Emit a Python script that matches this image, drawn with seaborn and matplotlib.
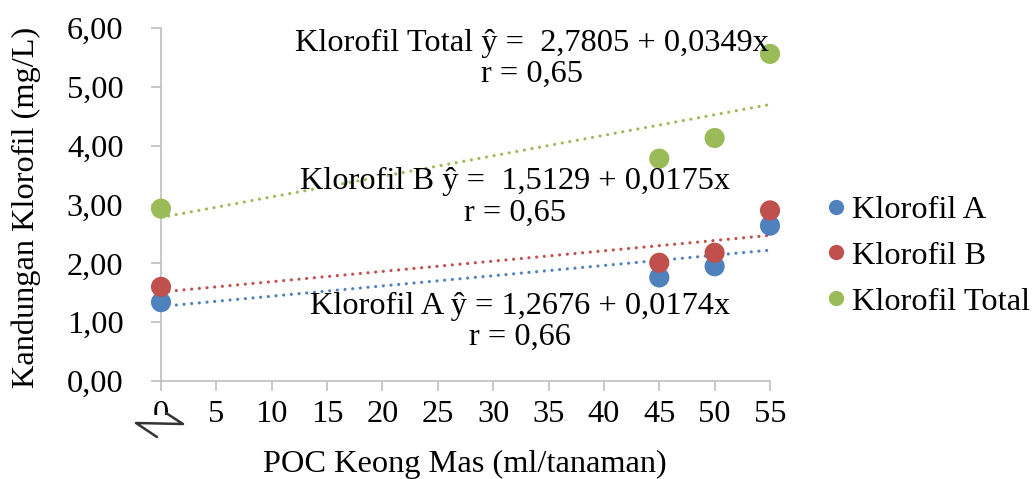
import numpy as np
import pandas as pd
import matplotlib
matplotlib.use("Agg")
import matplotlib.pyplot as plt
from matplotlib.lines import Line2D
from matplotlib.patches import Rectangle
import seaborn as sns

# ---- data ----
x_poc = [0, 45, 50, 55]
klorofil_a = [1.34, 1.76, 1.95, 2.64]
klorofil_b = [1.60, 2.01, 2.18, 2.90]
klorofil_total = [2.93, 3.78, 4.13, 5.56]
series_names = ["Klorofil A", "Klorofil B", "Klorofil Total"]
intercepts = [1.2676, 1.5129, 2.7805]
slopes = [0.0174, 0.0175, 0.0349]
equation_texts = [
    "Klorofil A ŷ = 1,2676 + 0,0174x\nr = 0,66",
    "Klorofil B ŷ =  1,5129 + 0,0175x\nr = 0,65",
    "Klorofil Total ŷ =  2,7805 + 0,0349x\nr = 0,65",
]
x_ticks = [0, 5, 10, 15, 20, 25, 30, 35, 40, 45, 50, 55]
y_ticks = [0, 1, 2, 3, 4, 5, 6]
y_tick_labels = ["0,00", "1,00", "2,00", "3,00", "4,00", "5,00", "6,00"]

colors = ["#4F81BD", "#C0504D", "#9BBB59"]

sns.set_theme(style="white")
plt.rcParams["font.family"] = ["Liberation Serif", "DejaVu Serif"]
plt.rcParams["text.color"] = "black"
plt.rcParams["axes.labelcolor"] = "black"
plt.rcParams["xtick.labelcolor"] = "black"
plt.rcParams["ytick.labelcolor"] = "black"
FS = 23.3

df = pd.DataFrame({
    "x": x_poc * 3,
    "y": klorofil_a + klorofil_b + klorofil_total,
    "series": sum([[n] * len(x_poc) for n in series_names], []),
})

fig = plt.figure(figsize=(10.34, 4.79), dpi=100)
ax = fig.add_axes([161 / 1034, 1 - 381 / 479, (770 - 161) / 1034, (381 - 28) / 479])

# trendlines
x_line = np.array([0, 55])
for a, b, c in zip(intercepts, slopes, colors):
    ax.plot(x_line, a + b * x_line, color=c, lw=2.3,
            linestyle=(0, (0.01, 2.4)), dash_capstyle="round", zorder=2)

sns.scatterplot(data=df, x="x", y="y", hue="series", palette=colors,
                s=210, edgecolor="none", ax=ax, legend=False, zorder=3,
                clip_on=False)

ax.set_xlim(0, 55)
ax.set_ylim(0, 6)
ax.set_xticks(x_ticks)
ax.set_xticklabels([str(t) for t in x_ticks], fontsize=FS)
ax.set_yticks(y_ticks)
ax.set_yticklabels(y_tick_labels, fontsize=FS)
ax.tick_params(axis="y", length=7, width=1.2, color="#BFBFBF", pad=20,
               direction="out", left=True, labelcolor="black")
ax.tick_params(axis="x", length=7, width=1.2, color="#BFBFBF", pad=7,
               direction="out", bottom=True, labelcolor="black")
for s in ["top", "right"]:
    ax.spines[s].set_visible(False)
for s in ["left", "bottom"]:
    ax.spines[s].set_color("#BFBFBF")
    ax.spines[s].set_linewidth(1.2)
ax.grid(False)

ax.set_xlabel("POC Keong Mas (ml/tanaman)", fontsize=FS, color="black")
ax.set_ylabel("Kandungan Klorofil (mg/L)", fontsize=FS, color="black")
ax.xaxis.set_label_coords((465 - 161) / (770 - 161), -(450 - 381) / (381 - 28))
ax.yaxis.set_label_coords(-(161 - 41) / (770 - 161), (381 - 207) / (381 - 28))

# equations
eq_pos = [(32.4, 1.0), (32.0, 3.12), (33.5, 5.47)]
for (ex, ey), t in zip(eq_pos, equation_texts):
    ax.text(ex, ey, t, ha="center", va="center", fontsize=FS,
            linespacing=1.1, zorder=4, color="black")

# legend
handles = [Line2D([0], [0], marker="o", linestyle="none", markersize=11,
                  markerfacecolor=c, markeredgecolor="none") for c in colors]
leg = fig.legend(handles, series_names, loc="center left",
                 bbox_to_anchor=(807 / 1034, 1 - 256 / 479), frameon=False,
                 fontsize=FS, handletextpad=0.0, labelspacing=0.5,
                 borderaxespad=0, handlelength=1.0)
for t in leg.get_texts():
    t.set_color("black")

# axis break symbol over the 0 label
fig.patches.append(Rectangle((133 / 1034, 1 - 442 / 479), 56 / 1034, 27 / 479,
                             transform=fig.transFigure, facecolor="white",
                             edgecolor="none", zorder=5))
zig_x = [166, 183, 136, 157]
zig_y = [413, 424, 423, 437]
fig.lines.append(Line2D([v / 1034 for v in zig_x], [1 - v / 479 for v in zig_y],
                        transform=fig.transFigure, color="#333333", lw=1.8,
                        zorder=6))

fig.savefig("out.png", dpi=100, facecolor="white")
